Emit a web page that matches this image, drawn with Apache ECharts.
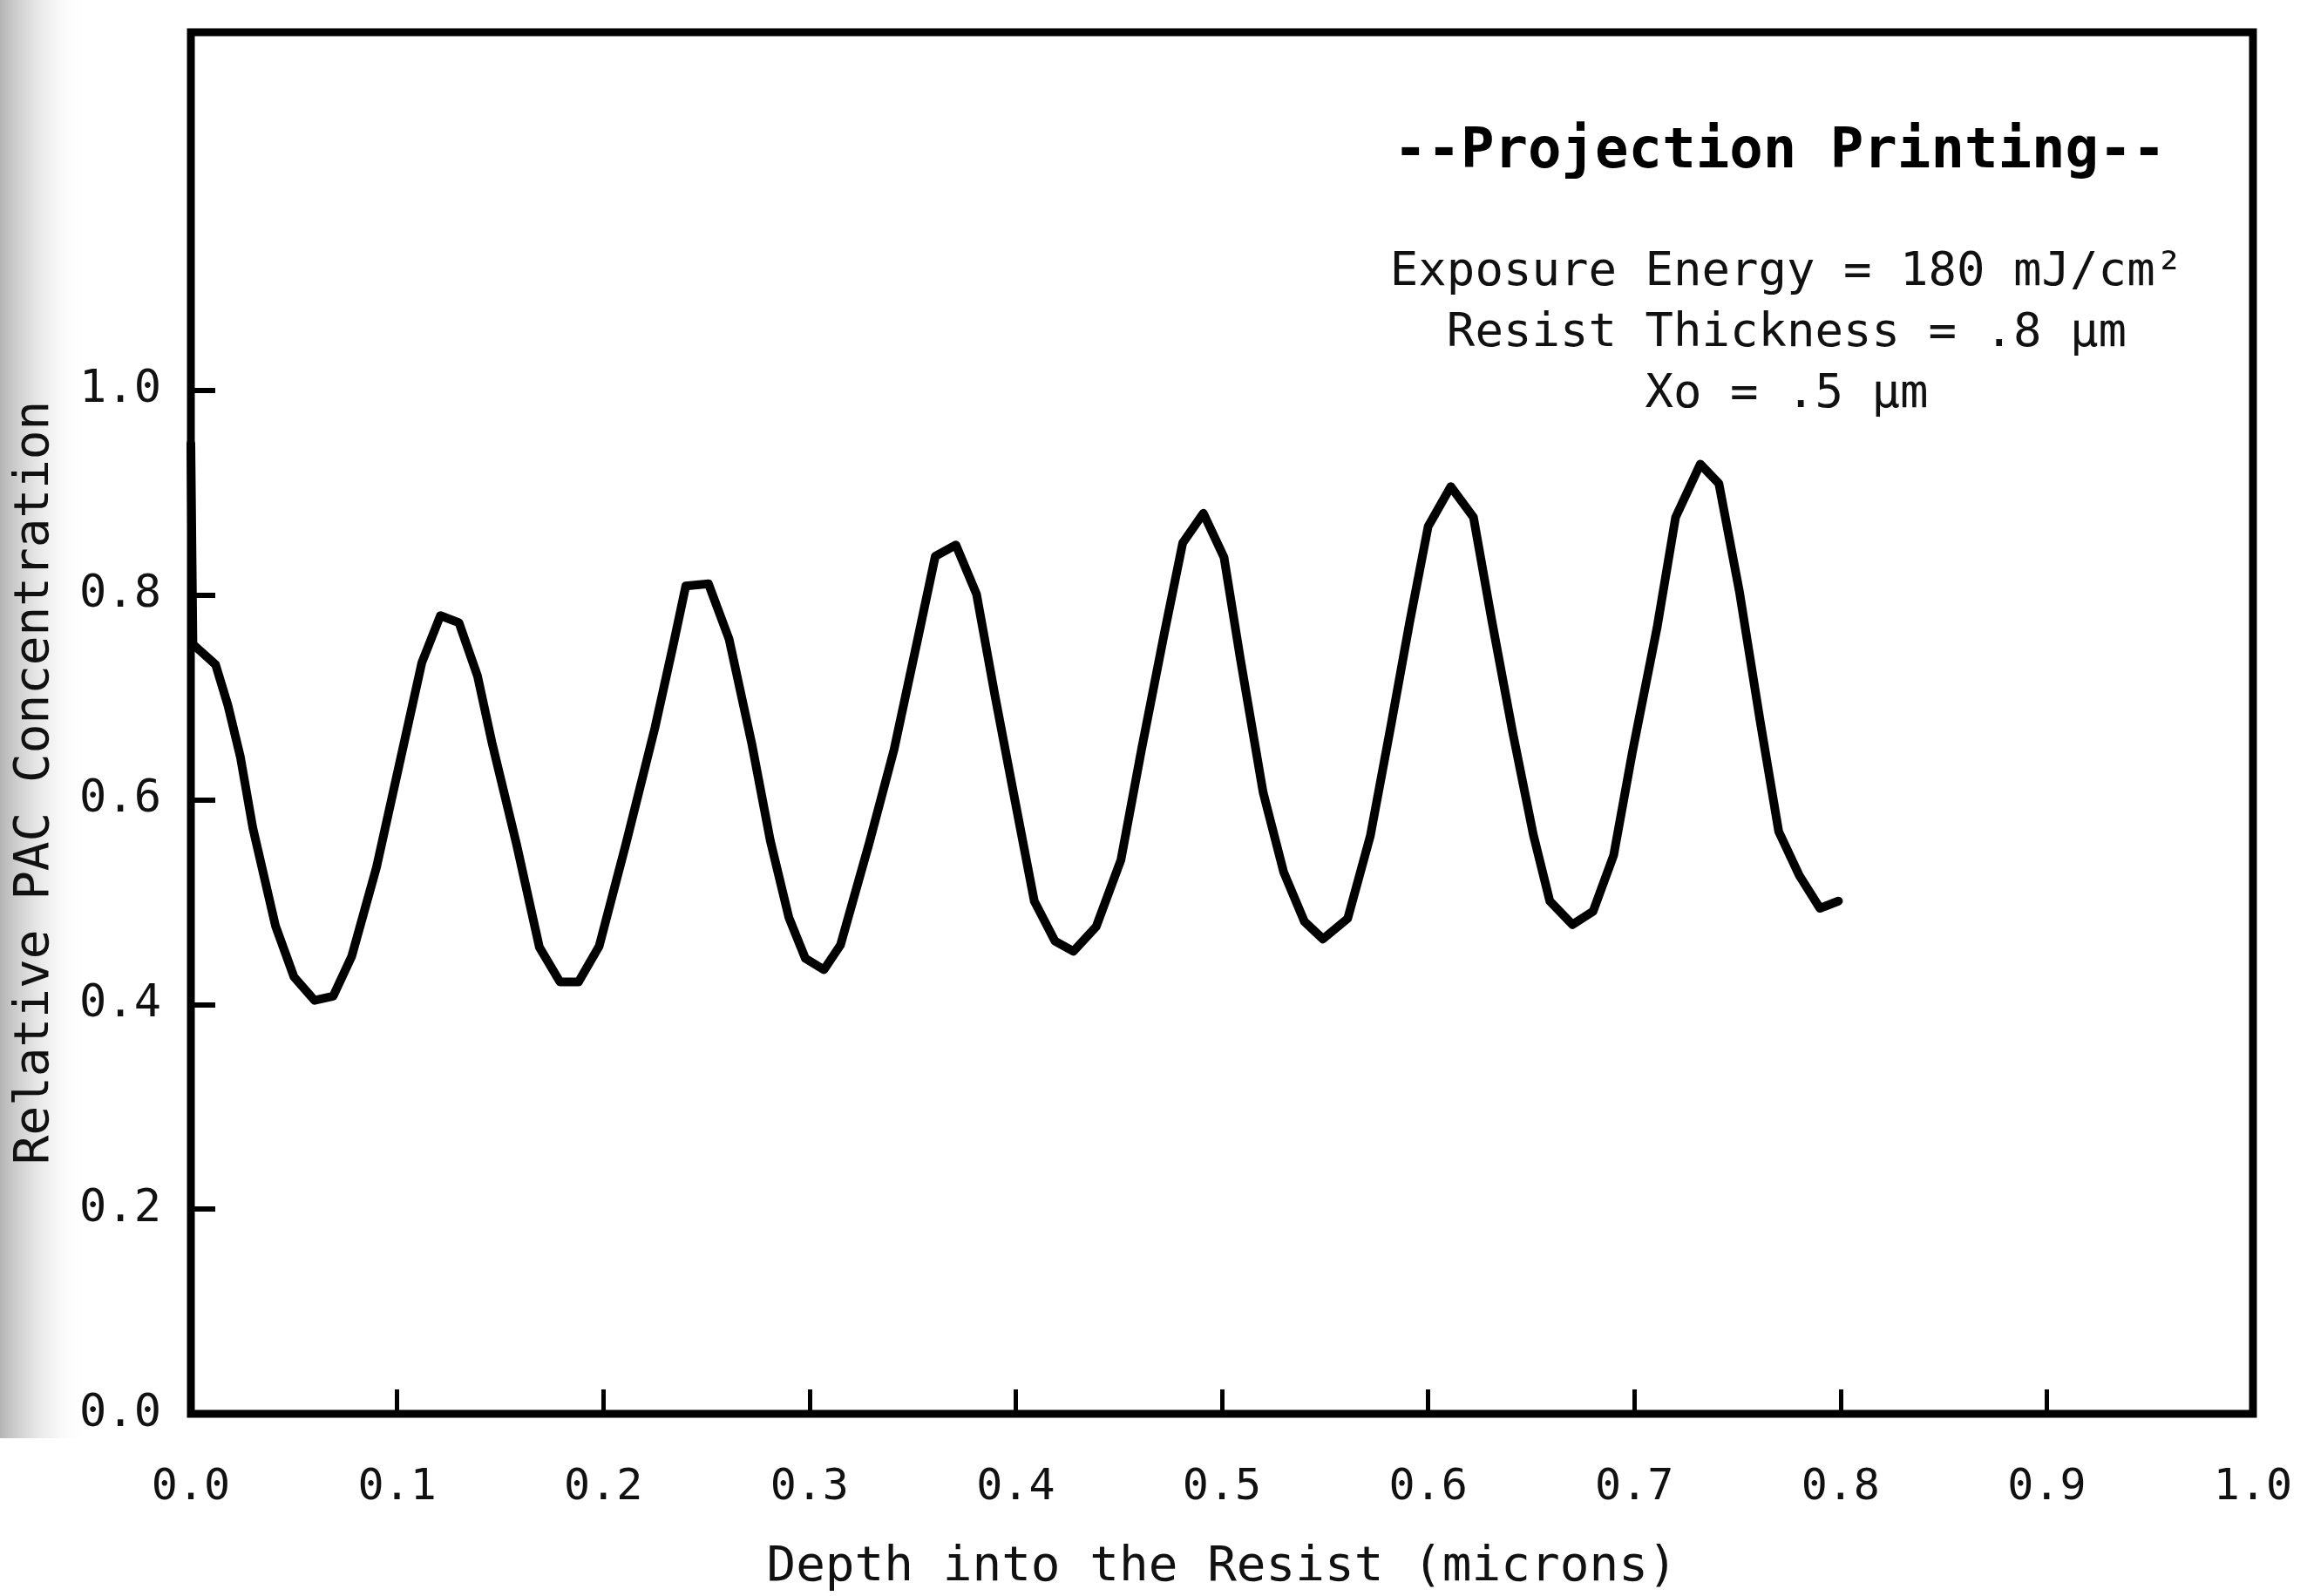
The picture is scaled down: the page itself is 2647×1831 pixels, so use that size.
<!DOCTYPE html>
<html>
<head>
<meta charset="utf-8">
<title>Projection Printing</title>
<script src="https://cdn.jsdelivr.net/npm/echarts@6/dist/echarts.min.js"></script>
<style>
  html, body { margin: 0; padding: 0; background: #fff; }
  #chart { width: 2647px; height: 1831px; }
</style>
</head>
<body>
<div id="chart"></div>
<script>
// depth into the resist (microns) and relative PAC concentration
const depth = [
  0.000, 0.001, 0.012, 0.018, 0.024, 0.030, 0.041, 0.050, 0.060, 0.069,
  0.078, 0.090, 0.102, 0.112, 0.121, 0.130, 0.139, 0.146, 0.158, 0.169,
  0.179, 0.188, 0.198, 0.211, 0.225, 0.234, 0.240, 0.251, 0.261, 0.272,
  0.281, 0.290, 0.298, 0.307, 0.315, 0.329, 0.341, 0.353, 0.361, 0.371,
  0.381, 0.390, 0.399, 0.409, 0.419, 0.428, 0.439, 0.451, 0.461, 0.472,
  0.481, 0.491, 0.501, 0.509, 0.520, 0.530, 0.540, 0.549, 0.561, 0.572,
  0.582, 0.591, 0.600, 0.611, 0.622, 0.631, 0.641, 0.651, 0.659, 0.670,
  0.680, 0.690, 0.699, 0.711, 0.720, 0.732, 0.741, 0.751, 0.761, 0.770,
  0.780, 0.790, 0.799
];
const pac = [
  0.948, 0.752, 0.732, 0.692, 0.642, 0.573, 0.477, 0.427, 0.404, 0.408,
  0.447, 0.534, 0.643, 0.734, 0.780, 0.773, 0.721, 0.656, 0.556, 0.456,
  0.422, 0.422, 0.457, 0.557, 0.670, 0.752, 0.809, 0.811, 0.757, 0.655,
  0.560, 0.485, 0.445, 0.434, 0.458, 0.558, 0.649, 0.762, 0.838, 0.849,
  0.801, 0.701, 0.606, 0.501, 0.462, 0.452, 0.476, 0.541, 0.649, 0.762,
  0.851, 0.880, 0.837, 0.737, 0.607, 0.529, 0.481, 0.464, 0.484, 0.565,
  0.673, 0.773, 0.867, 0.906, 0.876, 0.774, 0.666, 0.566, 0.501, 0.478,
  0.491, 0.546, 0.646, 0.768, 0.876, 0.928, 0.909, 0.803, 0.677, 0.569,
  0.526, 0.494, 0.501
];

const xTicks = [0.1, 0.2, 0.3, 0.4, 0.5, 0.6, 0.7, 0.8, 0.9];
const xLabels = [0, 0.1, 0.2, 0.3, 0.4, 0.5, 0.6, 0.7, 0.8, 0.9, 1.0];
const yTicks = [0.2, 0.4, 0.6, 0.8, 1.0];
const yLabels = [0, 0.2, 0.4, 0.6, 0.8, 1.0];

const notes = [
  'Exposure Energy = 180 mJ/cm\u00b2',
  'Resist Thickness = .8 \u03bcm',
  'Xo = .5 \u03bcm'
];

const mono = '"DejaVu Sans Mono", "Liberation Mono", monospace';

const myChart = echarts.init(document.getElementById('chart'));

const points = depth.map((d, i) => [d, pac[i]]);

myChart.setOption({
  backgroundColor: '#fff',
  animation: false,
  grid: {
    left: 219,
    right: 62,
    top: 37,
    bottom: 207,
    show: true,
    borderColor: '#000',
    borderWidth: 9
  },
  xAxis: {
    type: 'value',
    min: 0,
    max: 1,
    interval: 0.1,
    axisLine: { show: false },
    splitLine: { show: false },
    axisTick: {
      show: true,
      inside: true,
      length: 28,
      customValues: xTicks,
      lineStyle: { color: '#000', width: 5 }
    },
    axisLabel: {
      customValues: xLabels,
      margin: 60,
      color: '#111',
      fontFamily: mono,
      fontSize: 50,
      formatter: v => v.toFixed(1)
    },
    name: 'Depth into the Resist (microns)',
    nameLocation: 'middle',
    nameGap: 148,
    nameTextStyle: { color: '#111', fontFamily: mono, fontSize: 56 }
  },
  yAxis: {
    type: 'value',
    min: 0,
    max: 1.35,
    interval: 0.2,
    axisLine: { show: false },
    splitLine: { show: false },
    axisTick: {
      show: true,
      inside: true,
      length: 28,
      customValues: yTicks,
      lineStyle: { color: '#000', width: 6 }
    },
    axisLabel: {
      customValues: yLabels,
      margin: 34,
      color: '#111',
      fontFamily: mono,
      fontSize: 52,
      formatter: v => v.toFixed(1)
    }
  },
  graphic: [
    {
      type: 'rect',
      z: -10,
      shape: { x: 0, y: 0, width: 100, height: 1650 },
      style: {
        fill: new echarts.graphic.LinearGradient(0, 0, 1, 0, [
          { offset: 0, color: 'rgba(130,130,130,0.6)' },
          { offset: 1, color: 'rgba(255,255,255,0)' }
        ])
      }
    },
    {
      type: 'text',
      x: 40,
      y: 898,
      rotation: Math.PI / 2,
      style: {
        text: 'Relative PAC Concentration',
        font: '56px ' + mono,
        fill: '#111',
        align: 'center',
        verticalAlign: 'middle',
        textAlign: 'center',
        textVerticalAlign: 'middle'
      }
    },
    {
      type: 'text',
      x: 2042,
      y: 175,
      style: {
        text: '--Projection Printing--',
        font: 'bold 64px ' + mono,
        fill: '#000',
        align: 'center',
        verticalAlign: 'middle',
        textAlign: 'center',
        textVerticalAlign: 'middle'
      }
    },
    ...notes.map((t, i) => ({
      type: 'text',
      x: 2050,
      y: 313 + i * 70,
      style: {
        text: t,
        font: '54px ' + mono,
        fill: '#111',
        align: 'center',
        verticalAlign: 'middle',
        textAlign: 'center',
        textVerticalAlign: 'middle'
      }
    }))
  ],
  series: [
    {
      name: 'Relative PAC Concentration',
      type: 'line',
      data: points,
      showSymbol: false,
      symbol: 'none',
      clip: false,
      lineStyle: { color: '#000', width: 10, join: 'round', cap: 'round' }
    }
  ]
});
</script>
</body>
</html>
